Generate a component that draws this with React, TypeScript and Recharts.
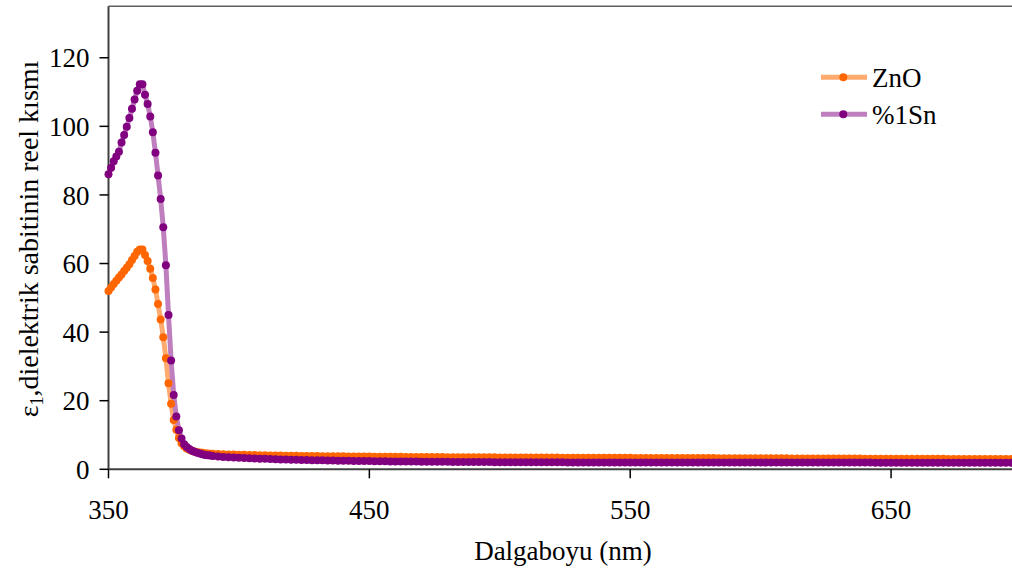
import React from 'react';
import { LineChart, Line, XAxis, YAxis, ReferenceLine, Legend } from 'recharts';

// wavelength grid (nm): 1 nm steps near the band edge, 2 nm steps after
const wavelengthsUv = [
  350, 351, 352, 353, 354, 355, 356, 357, 358, 359,
  360, 361, 362, 363, 364, 365, 366, 367, 368, 369,
  370, 371, 372, 373, 374, 375, 376, 377, 378, 379,
  380, 381, 382, 383, 384, 385, 386, 387, 388, 389,
];
const wavelengthsVis = [
  390, 392, 394, 396, 398, 400, 402, 404, 406, 408,
  410, 412, 414, 416, 418, 420, 422, 424, 426, 428,
  430, 432, 434, 436, 438, 440, 442, 444, 446, 448,
  450, 452, 454, 456, 458, 460, 462, 464, 466, 468,
  470, 472, 474, 476, 478, 480, 482, 484, 486, 488,
  490, 492, 494, 496, 498, 500, 502, 504, 506, 508,
  510, 512, 514, 516, 518, 520, 522, 524, 526, 528,
  530, 532, 534, 536, 538, 540, 542, 544, 546, 548,
  550, 552, 554, 556, 558, 560, 562, 564, 566, 568,
  570, 572, 574, 576, 578, 580, 582, 584, 586, 588,
  590, 592, 594, 596, 598, 600, 602, 604, 606, 608,
  610, 612, 614, 616, 618, 620, 622, 624, 626, 628,
  630, 632, 634, 636, 638, 640, 642, 644, 646, 648,
  650, 652, 654, 656, 658, 660, 662, 664, 666, 668,
  670, 672, 674, 676, 678, 680, 682, 684, 686, 688,
  690, 692, 694, 696, 698, 700,
];

// ZnO
const znoUv = [
  52.0, 53.0, 54.0, 55.0, 55.9, 56.8, 57.8, 58.8, 59.8, 61.0,
  62.2, 63.4, 64.1, 64.1, 62.5, 60.7, 58.5, 55.8, 52.4, 48.2,
  43.7, 38.5, 32.4, 25.1, 19.1, 14.4, 11.5, 9.1, 7.6, 6.7,
  6.1, 5.7, 5.4, 5.2, 5.0, 4.9, 4.8, 4.7, 4.6, 4.55,
];
const znoVis = [
  4.50, 4.45, 4.40, 4.35, 4.30, 4.26, 4.22, 4.18, 4.15, 4.12,
  4.09, 4.06, 4.03, 4.00, 3.98, 3.96, 3.93, 3.91, 3.89, 3.87,
  3.85, 3.83, 3.81, 3.80, 3.78, 3.77, 3.75, 3.74, 3.72, 3.71,
  3.70, 3.69, 3.67, 3.66, 3.65, 3.64, 3.63, 3.62, 3.61, 3.60,
  3.59, 3.58, 3.57, 3.56, 3.55, 3.54, 3.54, 3.53, 3.52, 3.51,
  3.50, 3.50, 3.49, 3.48, 3.48, 3.47, 3.46, 3.46, 3.45, 3.45,
  3.44, 3.43, 3.43, 3.42, 3.42, 3.41, 3.41, 3.40, 3.40, 3.39,
  3.39, 3.38, 3.38, 3.37, 3.37, 3.36, 3.36, 3.35, 3.35, 3.34,
  3.34, 3.33, 3.33, 3.32, 3.32, 3.31, 3.31, 3.30, 3.30, 3.29,
  3.29, 3.28, 3.28, 3.27, 3.27, 3.26, 3.26, 3.25, 3.25, 3.24,
  3.24, 3.23, 3.23, 3.22, 3.22, 3.21, 3.21, 3.20, 3.20, 3.19,
  3.19, 3.18, 3.18, 3.17, 3.17, 3.16, 3.16, 3.15, 3.15, 3.14,
  3.14, 3.13, 3.13, 3.12, 3.12, 3.11, 3.11, 3.10, 3.10, 3.09,
  3.09, 3.08, 3.08, 3.07, 3.07, 3.06, 3.06, 3.05, 3.05, 3.04,
  3.04, 3.03, 3.03, 3.02, 3.02, 3.01, 3.01, 3.00, 3.00, 2.99,
  2.99, 2.98, 2.98, 2.97, 2.97, 2.96,
];

// %1 Sn
const snUv = [
  86.0, 87.9, 89.8, 91.2, 92.6, 95.3, 97.5, 99.9, 102.4, 105.1,
  107.8, 110.4, 112.3, 112.3, 109.2, 106.5, 102.9, 98.3, 92.3, 85.7,
  78.8, 70.6, 59.5, 45.0, 31.7, 21.7, 15.4, 11.4, 9.0, 7.3,
  6.5, 5.9, 5.4, 5.1, 4.8, 4.6, 4.4, 4.2, 4.1, 4.0,
];
const snVis = [
  3.90, 3.75, 3.62, 3.52, 3.43, 3.35, 3.28, 3.21, 3.15, 3.09,
  3.04, 2.99, 2.94, 2.89, 2.85, 2.81, 2.77, 2.73, 2.70, 2.67,
  2.64, 2.61, 2.58, 2.55, 2.52, 2.50, 2.47, 2.45, 2.43, 2.41,
  2.39, 2.37, 2.35, 2.33, 2.31, 2.30, 2.28, 2.27, 2.25, 2.24,
  2.23, 2.21, 2.20, 2.19, 2.18, 2.17, 2.16, 2.15, 2.14, 2.13,
  2.12, 2.11, 2.10, 2.10, 2.09, 2.08, 2.07, 2.07, 2.06, 2.06,
  2.05, 2.05, 2.04, 2.04, 2.03, 2.03, 2.02, 2.02, 2.01, 2.01,
  2.01, 2.00, 2.00, 2.00, 1.99, 1.99, 1.99, 1.99, 1.98, 1.98,
  1.98, 1.98, 1.98, 1.97, 1.97, 1.97, 1.97, 1.97, 1.97, 1.96,
  1.96, 1.96, 1.96, 1.96, 1.96, 1.96, 1.96, 1.96, 1.96, 1.96,
  1.96, 1.96, 1.96, 1.96, 1.96, 1.96, 1.96, 1.96, 1.96, 1.96,
  1.96, 1.96, 1.96, 1.96, 1.96, 1.95, 1.95, 1.95, 1.95, 1.95,
  1.95, 1.95, 1.95, 1.95, 1.95, 1.95, 1.95, 1.94, 1.94, 1.94,
  1.94, 1.94, 1.94, 1.94, 1.94, 1.93, 1.93, 1.93, 1.93, 1.93,
  1.93, 1.92, 1.92, 1.92, 1.92, 1.92, 1.91, 1.91, 1.91, 1.91,
  1.91, 1.90, 1.90, 1.90, 1.90, 1.90,
];

const xTicks = [350, 450, 550, 650];
const yTicks = [0, 20, 40, 60, 80, 100, 120];

const SERIES = [
  { key: 'zno', name: 'ZnO', line: '#FFAA6E', dot: '#FF6600' },
  { key: 'sn', name: '%1Sn', line: '#BF7FBF', dot: '#800080' },
];

const FONT = '"Liberation Serif", "Times New Roman", serif';

const wavelengths = [...wavelengthsUv, ...wavelengthsVis];
const zno = [...znoUv, ...znoVis];
const sn = [...snUv, ...snVis];
const data = wavelengths.map((w, i) => ({ w, zno: zno[i], sn: sn[i] }));

function LegendBox() {
  return (
    <svg width={200} height={80} style={{ display: 'block' }}>
      {SERIES.map((s, i) => {
        const y = 22.3 + i * 37;
        return (
          <g key={s.key}>
            <line x1={6} x2={52} y1={y} y2={y} stroke={s.line} strokeWidth={5} />
            <circle cx={28.3} cy={y} r={4} fill={s.dot} />
            <text x={57} y={y + 10} fontSize={27} fontFamily={FONT} fill="#000">
              {s.name}
            </text>
          </g>
        );
      })}
    </svg>
  );
}

export default function App() {
  const tick = { fontSize: 27, fontFamily: FONT, fill: '#000' };
  return (
    <div style={{ position: 'fixed', left: 0, top: 0, width: 1012, height: 575, overflow: 'hidden', background: '#fff' }}>
      <LineChart width={1040} height={575} data={data} margin={{ top: 6.3, right: 18.5, bottom: 45.7, left: 0 }}>
        <XAxis
          dataKey="w"
          type="number"
          domain={[350, 700]}
          ticks={xTicks}
          height={60}
          tick={tick}
          tickSize={9}
          tickMargin={22}
          stroke="#404040"
          strokeWidth={2}
          tickLine={{ stroke: '#000', strokeWidth: 1.5 }}
          label={{
            content: () => (
              <text x={563} y={560} textAnchor="middle" fontSize={27} fontFamily={FONT} fill="#000">
                Dalgaboyu (nm)
              </text>
            ),
          }}
        />
        <YAxis
          domain={[0, 135]}
          ticks={yTicks}
          width={108.5}
          tick={tick}
          tickSize={9}
          tickMargin={10}
          stroke="#404040"
          strokeWidth={2}
          tickLine={{ stroke: '#000', strokeWidth: 1.5 }}
          label={{
            content: () => (
              <text
                x={38}
                y={239}
                transform="rotate(-90 38 239)"
                textAnchor="middle"
                fontSize={28}
                fontFamily={FONT}
                fill="#000"
              >
                <tspan>ε</tspan>
                <tspan fontSize={18} dy={5}>1</tspan>
                <tspan dy={-5}>,dielektrik sabitinin reel kısmı</tspan>
              </text>
            ),
          }}
        />
        <ReferenceLine y={135} stroke="#606060" strokeWidth={1.5} />
        <Legend
          layout="horizontal"
          verticalAlign="middle"
          align="center"
          content={() => <LegendBox />}
          wrapperStyle={{ left: 815, top: 55, width: 200 }}
        />
        {SERIES.map((s) => (
          <Line
            key={s.key}
            dataKey={s.key}
            name={s.name}
            type="linear"
            stroke={s.line}
            strokeWidth={5}
            dot={{ r: 4, fill: s.dot, stroke: 'none' }}
            activeDot={false}
            isAnimationActive={false}
          />
        ))}
      </LineChart>
    </div>
  );
}
